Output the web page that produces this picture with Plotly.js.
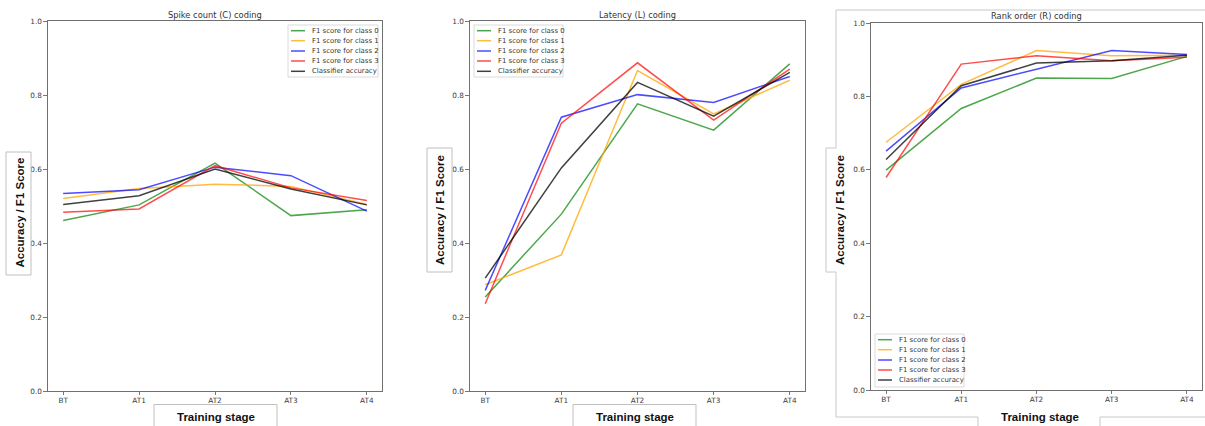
<!DOCTYPE html>
<html>
<head>
<meta charset="utf-8">
<script src="https://cdn.plot.ly/plotly-3.0.1.min.js"></script>
<style>html,body{margin:0;padding:0;background:#fff;}#chart{width:1205px;height:426px;}</style>
</head>
<body>
<div id="chart"></div>
<script>
// ---- data ----
const stages = ["BT", "AT1", "AT2", "AT3", "AT4"];
const seriesNames = ["F1 score for class 0", "F1 score for class 1", "F1 score for class 2", "F1 score for class 3", "Classifier accuracy"];
const panelTitles = ["Spike count (C) coding", "Latency (L) coding", "Rank order (R) coding"];
const yTickVals = [0, 0.2, 0.4, 0.6, 0.8, 1.0];

const spikeClass0 = [0.461, 0.503, 0.616, 0.474, 0.490];
const spikeClass1 = [0.520, 0.547, 0.559, 0.553, 0.504];
const spikeClass2 = [0.534, 0.544, 0.605, 0.582, 0.486];
const spikeClass3 = [0.483, 0.492, 0.609, 0.549, 0.515];
const spikeAcc    = [0.504, 0.528, 0.600, 0.546, 0.503];

const latClass0 = [0.254, 0.478, 0.776, 0.705, 0.884];
const latClass1 = [0.287, 0.368, 0.866, 0.749, 0.840];
const latClass2 = [0.272, 0.740, 0.801, 0.780, 0.850];
const latClass3 = [0.236, 0.724, 0.887, 0.732, 0.870];
const latAcc    = [0.305, 0.603, 0.834, 0.743, 0.861];

const rankClass0 = [0.599, 0.767, 0.850, 0.849, 0.909];
const rankClass1 = [0.675, 0.833, 0.925, 0.911, 0.912];
const rankClass2 = [0.651, 0.823, 0.874, 0.925, 0.914];
const rankClass3 = [0.579, 0.888, 0.911, 0.897, 0.907];
const rankAcc    = [0.628, 0.829, 0.891, 0.897, 0.912];

// ---- styling ----
const W = 1205, H = 426;
const px = x => x / W;
const py = y => 1 - y / H;
const colors = ["rgba(0,128,0,0.7)", "rgba(255,165,0,0.75)", "rgba(0,0,255,0.7)", "rgba(255,0,0,0.7)", "rgba(0,0,0,0.75)"];
const tickFont = {family: "DejaVu Sans", size: 7.3, color: "#3a3a3a"};
const smallFont = {family: "DejaVu Sans", size: 6.9, color: "#333"};
const titleFont = {family: "DejaVu Sans", size: 8.3, color: "#333"};
const labelFont = {family: "Liberation Sans, Arial", size: 11.5, color: "#111"};

const panels = [
  {series: [spikeClass0, spikeClass1, spikeClass2, spikeClass3, spikeAcc],
   x0: 48, x1: 382, y0: 21, y1: 391, titleY: 15,
   legend: {bx0: 288, bx1: 378, by0: 25, by1: 77, lx0: 291, lx1: 305, tx: 310, rows: [30.7, 40.7, 51, 61, 71.3]},
   ylab: {x0: 6, x1: 31, y0: 152, y1: 275, cx: 19.5, cy: 213},
   xlab: {x0: 154, x1: 277, y0: 404.5, cx: 215.5, cy: 416.5}},
  {series: [latClass0, latClass1, latClass2, latClass3, latAcc],
   x0: 470, x1: 805, y0: 21, y1: 391, titleY: 15,
   legend: {bx0: 474, bx1: 563, by0: 25, by1: 77, lx0: 477, lx1: 491, tx: 496, rows: [30.7, 40.7, 51, 61, 71.3]},
   ylab: {x0: 427, x1: 452, y0: 148, y1: 272, cx: 440, cy: 210},
   xlab: {x0: 573, x1: 696, y0: 404.5, cx: 635, cy: 416.5}},
  {series: [rankClass0, rankClass1, rankClass2, rankClass3, rankAcc],
   x0: 871, x1: 1202, y0: 23, y1: 390, titleY: 16.5,
   legend: {bx0: 875, bx1: 964, by0: 334, by1: 387, lx0: 878, lx1: 892, tx: 897, rows: [339.7, 349.7, 360, 370, 380]},
   ylab: {x0: 826, x1: 853, y0: 148, y1: 272, cx: 840, cy: 210},
   xlab: null}
];

const data = [];
const layout = {
  width: W, height: H,
  margin: {l: 0, r: 0, t: 0, b: 0},
  paper_bgcolor: "#fff", plot_bgcolor: "#fff",
  showlegend: false,
  shapes: [], annotations: []
};

// outer frame for third panel (drawn first so label box covers it)
const frameLine = {color: "#c8c8c8", width: 1};
layout.shapes.push(
  {type: "line", xref: "paper", yref: "paper", x0: px(836), x1: px(836), y0: py(10), y1: py(417), line: frameLine, layer: "above"},
  {type: "line", xref: "paper", yref: "paper", x0: px(836), x1: px(1205), y0: py(10), y1: py(10), line: frameLine, layer: "above"},
  {type: "line", xref: "paper", yref: "paper", x0: px(836), x1: px(978), y0: py(417), y1: py(417), line: frameLine, layer: "above"},
  {type: "line", xref: "paper", yref: "paper", x0: px(978), x1: px(978), y0: py(417), y1: py(426), line: frameLine, layer: "above"},
  {type: "line", xref: "paper", yref: "paper", x0: px(1100), x1: px(1205), y0: py(417), y1: py(417), line: frameLine, layer: "above"},
  {type: "line", xref: "paper", yref: "paper", x0: px(1100), x1: px(1100), y0: py(417), y1: py(426), line: frameLine, layer: "above"}
);
layout.annotations.push({xref: "paper", yref: "paper", x: px(1040), y: py(416.5), text: "<b>Training stage</b>",
  showarrow: false, xanchor: "center", yanchor: "middle", font: labelFont});

panels.forEach((p, i) => {
  const n = i === 0 ? "" : String(i + 1);
  const xa = "xaxis" + n, ya = "yaxis" + n;
  layout[xa] = {
    domain: [px(p.x0), px(p.x1)], anchor: "y" + n,
    type: "category", categoryorder: "array", categoryarray: stages,
    range: [-0.2, 4.2], showgrid: false, zeroline: false,
    showline: true, mirror: true, linecolor: "#707070", linewidth: 1.1,
    ticks: "outside", ticklen: 2.5, tickwidth: 0.8, tickcolor: "#555",
    tickfont: tickFont, fixedrange: true
  };
  layout[ya] = {
    domain: [py(p.y1), py(p.y0)], anchor: "x" + n,
    range: [0, 1], tickvals: yTickVals, tickformat: ".1f",
    showgrid: false, zeroline: false,
    showline: true, mirror: true, linecolor: "#707070", linewidth: 1.1,
    ticks: "outside", ticklen: 3.5, tickwidth: 0.8, tickcolor: "#555",
    tickfont: tickFont, fixedrange: true
  };
  p.series.forEach((vals, s) => {
    data.push({x: stages, y: vals, xaxis: "x" + n, yaxis: "y" + n, type: "scatter", mode: "lines",
      name: seriesNames[s], line: {color: colors[s], width: 1.5}, hoverinfo: "skip"});
  });
  // title
  layout.annotations.push({xref: "paper", yref: "paper", x: px((p.x0 + p.x1) / 2), y: py(p.titleY),
    text: panelTitles[i], showarrow: false, xanchor: "center", yanchor: "middle", font: titleFont});
  // legend box
  const L = p.legend;
  layout.shapes.push({type: "rect", xref: "paper", yref: "paper", x0: px(L.bx0), x1: px(L.bx1), y0: py(L.by1), y1: py(L.by0),
    fillcolor: "rgba(255,255,255,0.85)", line: {color: "#d0d0d0", width: 0.8}, layer: "above"});
  seriesNames.forEach((name, s) => {
    layout.shapes.push({type: "line", xref: "paper", yref: "paper", x0: px(L.lx0), x1: px(L.lx1), y0: py(L.rows[s]), y1: py(L.rows[s]),
      line: {color: colors[s], width: 1.5}, layer: "above"});
    layout.annotations.push({xref: "paper", yref: "paper", x: px(L.tx), y: py(L.rows[s]), text: name,
      showarrow: false, xanchor: "left", yanchor: "middle", font: smallFont});
  });
  // y label box
  const Y = p.ylab;
  layout.shapes.push({type: "rect", xref: "paper", yref: "paper", x0: px(Y.x0), x1: px(Y.x1), y0: py(Y.y1), y1: py(Y.y0),
    fillcolor: "#fff", line: {color: i === 2 ? "rgba(0,0,0,0)" : "#c0c0c0", width: 1}, layer: "above"});
  if (i === 2) {
    layout.shapes.push(
      {type: "line", xref: "paper", yref: "paper", x0: px(Y.x0), x1: px(Y.x0), y0: py(Y.y1), y1: py(Y.y0), line: frameLine, layer: "above"},
      {type: "line", xref: "paper", yref: "paper", x0: px(Y.x0), x1: px(836), y0: py(Y.y0), y1: py(Y.y0), line: frameLine, layer: "above"},
      {type: "line", xref: "paper", yref: "paper", x0: px(Y.x0), x1: px(836), y0: py(Y.y1), y1: py(Y.y1), line: frameLine, layer: "above"}
    );
  }
  layout.annotations.push({xref: "paper", yref: "paper", x: px(Y.cx), y: py(Y.cy), text: "<b>Accuracy / F1 Score</b>",
    showarrow: false, xanchor: "center", yanchor: "middle", textangle: -90, font: labelFont});
  // x label box
  if (p.xlab) {
    const X = p.xlab;
    layout.shapes.push({type: "rect", xref: "paper", yref: "paper", x0: px(X.x0), x1: px(X.x1), y0: py(430), y1: py(X.y0),
      fillcolor: "#fff", line: {color: "#c0c0c0", width: 1}, layer: "above"});
    layout.annotations.push({xref: "paper", yref: "paper", x: px(X.cx), y: py(X.cy), text: "<b>Training stage</b>",
      showarrow: false, xanchor: "center", yanchor: "middle", font: labelFont});
  }
});

Plotly.newPlot("chart", data, layout, {displayModeBar: false, staticPlot: true});
</script>
</body>
</html>
